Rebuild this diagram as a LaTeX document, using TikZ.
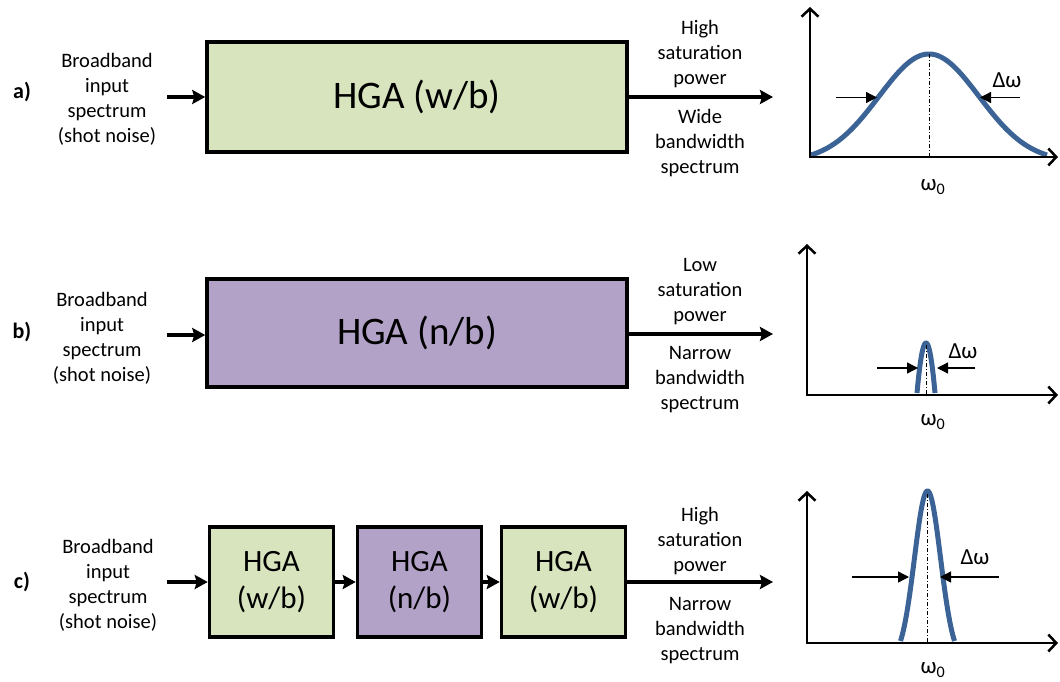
\documentclass[tikz,border=0pt]{standalone}
\usepackage{fontspec}
\setmainfont{Carlito}
\usetikzlibrary{arrows.meta}
\definecolor{wbgreen}{RGB}{215,228,189}
\definecolor{nbpurple}{RGB}{179,162,199}
\definecolor{curveblue}{RGB}{59,99,150}
\begin{document}
\begin{tikzpicture}[x=1pt,y=-1pt,
  bigamp/.style={draw=black, line width=3.5pt, minimum width=420pt, inner sep=0pt, font=\fontsize{39}{44}\selectfont},
  smallamp/.style={draw=black, line width=3.5pt, minimum width=124pt, minimum height=110pt, inner sep=0pt, align=center, font=\fontsize{31}{37}\selectfont},
  lbl/.style={font=\fontsize{20.5}{25}\selectfont, align=center, inner sep=0pt},
  tag/.style={font=\fontsize{22}{25}\selectfont\bfseries, inner sep=0pt},
  greek/.style={font=\fontsize{23}{25}\selectfont, inner sep=0pt},
  flow/.style={line width=3.2pt, -{Stealth[length=13pt,width=14pt,inset=2pt]}},
  axis/.style={line width=2.5pt, line join=miter, {Straight Barb[length=8pt,width=17pt]}-{Straight Barb[length=8pt,width=17pt]}},
  marker/.style={line width=1.3pt, -{Triangle[length=11pt,width=11pt]}},
  spec/.style={curveblue, line width=5pt},
  centre/.style={line width=1pt, dash pattern=on 4pt off 2pt on 1pt off 2pt}
]
\useasboundingbox (0,0) rectangle (1060,682);

% ---------- panel a ----------
\node[tag] (taga) at (22,92) {a)};
\node[lbl] (ina) at (107,99.5) {Broadband\\input\\spectrum\\(shot noise)};
\node[bigamp, fill=wbgreen, minimum height=110pt] (ampa) at (417,97) {HGA (w/b)};
\coordinate (sa) at (167,97);
\coordinate (ea) at (773,97);
\draw[flow] (sa) -- (ampa.west);
\draw[flow] (ampa.east) -- (ea);
\node[lbl] (outa1) at (700,54.5) {High\\saturation\\power};
\node[lbl] (outa2) at (700,143) {Wide\\bandwidth\\spectrum};
% graph a
\coordinate (ya) at (810,7);
\coordinate (oa) at (810,157);
\coordinate (xa) at (1058,157);
\draw[spec] plot[domain=-118:118, samples=120] ({929+\x},{155-101*(exp(-\x*\x/5000)-0.0617)/0.9383});
\coordinate (pa) at (929,54);
\coordinate (ba) at (929,157);
\draw[centre] (pa) -- (ba);
\draw[axis] (ya) -- (oa) -- (xa);
\coordinate (la0) at (836,97.5); \coordinate (la1) at (877,97.5);
\coordinate (ra0) at (1020,97.5); \coordinate (ra1) at (980,97.5);
\draw[marker] (la0) -- (la1);
\draw[marker] (ra0) -- (ra1);
\node[greek] (dwa) at (1007,80) {Δω};
\node[greek] (w0a) at (933,187) {ω\textsubscript{0}};

% ---------- panel b ----------
\node[tag] (tagb) at (22,332) {b)};
\node[lbl] (inb) at (102,338) {Broadband\\input\\spectrum\\(shot noise)};
\node[bigamp, fill=nbpurple, minimum height=108pt] (ampb) at (417,333) {HGA (n/b)};
\coordinate (sb) at (167,335);
\coordinate (eb) at (773,334);
\draw[flow] (sb) -- (ampb.west |- sb);
\draw[flow] (ampb.east |- eb) -- (eb);
\node[lbl] (outb1) at (700,292) {Low\\saturation\\power};
\node[lbl] (outb2) at (700,379.5) {Narrow\\bandwidth\\spectrum};
% graph b
\coordinate (yb) at (807,244);
\coordinate (ob) at (807,395);
\coordinate (xb) at (1058,395);
\draw[spec] plot[domain=-9:9, samples=60] ({926+\x},{393-50*(1-\x*\x/81)});
\coordinate (pb) at (926,345);
\coordinate (bb) at (926,395);
\draw[centre] (pb) -- (bb);
\draw[axis] (yb) -- (ob) -- (xb);
\coordinate (lb0) at (877,368); \coordinate (lb1) at (918,368);
\coordinate (rb0) at (975,368); \coordinate (rb1) at (937,368);
\draw[marker] (lb0) -- (lb1);
\draw[marker] (rb0) -- (rb1);
\node[greek] (dwb) at (963,351) {Δω};
\node[greek] (w0b) at (933,422) {ω\textsubscript{0}};

% ---------- panel c ----------
\node[tag] (tagc) at (22,582) {c)};
\node[lbl] (inc) at (108,585) {Broadband\\input\\spectrum\\(shot noise)};
\node[smallamp, fill=wbgreen] (c1) at (271.5,582) {HGA\\(w/b)};
\node[smallamp, fill=nbpurple] (c2) at (419.5,582) {HGA\\(n/b)};
\node[smallamp, fill=wbgreen] (c3) at (563.5,582) {HGA\\(w/b)};
\coordinate (sc) at (167,582);
\coordinate (ec) at (773,582);
\draw[flow] (sc) -- (c1.west);
\draw[flow] (c1.east) -- (c2.west);
\draw[flow] (c2.east) -- (c3.west);
\draw[flow] (c3.east) -- (ec);
\node[lbl] (outc1) at (700,541) {High\\saturation\\power};
\node[lbl] (outc2) at (700,631) {Narrow\\bandwidth\\spectrum};
% graph c
\coordinate (yc) at (807,491);
\coordinate (oc) at (807,643);
\coordinate (xc) at (1058,643);
\draw[spec] plot[domain=-27:27, samples=80] ({927.5+\x},{641-150*(exp(-\x*\x/338)-0.1157)/0.8843});
\coordinate (pc) at (927.5,494);
\coordinate (bc) at (927.5,643);
\draw[centre] (pc) -- (bc);
\draw[axis] (yc) -- (oc) -- (xc);
\coordinate (lc0) at (852,577); \coordinate (lc1) at (909,577);
\coordinate (rc0) at (999,577); \coordinate (rc1) at (940,577);
\draw[marker] (lc0) -- (lc1);
\draw[marker] (rc0) -- (rc1);
\node[greek] (dwc) at (975,557) {Δω};
\node[greek] (w0c) at (933,670) {ω\textsubscript{0}};
\end{tikzpicture}
\end{document}
